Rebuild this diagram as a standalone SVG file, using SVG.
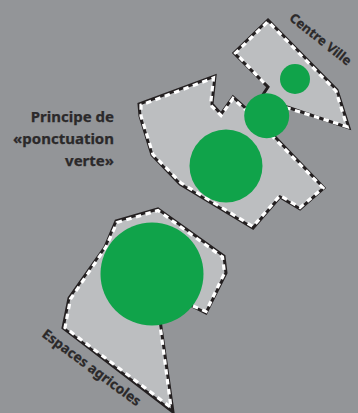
<svg xmlns="http://www.w3.org/2000/svg" width="358" height="413" viewBox="0 0 358 413">
<style>
.zone{fill:#bcbec0;stroke:#231f20;stroke-width:3;stroke-linejoin:miter;stroke-miterlimit:6}
.dash{fill:none;stroke:#fff;stroke-width:3.2;stroke-dasharray:5.5 4.5}
.park{fill:#10a34a}
text{font-family:"Noto Sans","Open Sans",sans-serif;font-weight:700;fill:#2b292a;stroke:#2b292a;stroke-width:.25}
.lbl{font-size:15px;text-anchor:end}
.rot{font-size:13.7px}
.rot-small{font-size:13px}
</style>
<rect width="358" height="413" fill="#939598"/>
<g id="centre-ville">
<polygon class="zone" points="268,20 337,90 349,128 287,107 262,96 268,87 234,53"/>
<polyline class="dash" points="256,101 287,108 347,126.500 336,91 268,21.500 235.500,53 267,86"/>
</g>
<g id="zone-centrale">
<polygon class="zone" points="215,76 212,104 221,114 233,97 250,112 276,138 324,188 300,209 280,197 253,228 180,184 152,155 140,116 139,104"/>
<polyline class="dash" points="250,113 275,139 323,188 300,207.500 280,195.500 253,226.500 181,183 153,154.500 141,116 141,105 213.500,78 210.500,105 221,115.500 233,98.500 249,113"/>
</g>
<g id="espaces-agricoles">
<polygon class="zone" points="158,209 224,256 226,273 206,313 180,300 160,320 173,412 63,328 69,298 105,247 116,221"/>
<polyline class="dash" points="193,306 206,311.500 224.500,273 222.500,257 158,210.500 117,222.500 106,247 70.500,299 65,327.500 171,407.500 160,325"/>
</g>
<g id="parc-1"><circle class="park" cx="295" cy="79" r="15"/></g>
<g id="parc-2"><circle class="park" cx="266.700" cy="115.700" r="22.500"/></g>
<g id="parc-3"><circle class="park" cx="226" cy="166" r="36.500"/></g>
<g id="parc-4"><circle class="park" cx="152" cy="274" r="51.500"/></g>
<g id="labels">
<text class="lbl" x="114" y="122">Principe de</text>
<text class="lbl" x="114" y="144">«ponctuation</text>
<text class="lbl" x="114" y="166">verte»</text>
<text class="rot-small" transform="translate(288.500 19.500) rotate(38.500)">Centre Ville</text>
<text class="rot" transform="translate(41 336) rotate(36.500)">Espaces agricoles</text>
</g>
</svg>
